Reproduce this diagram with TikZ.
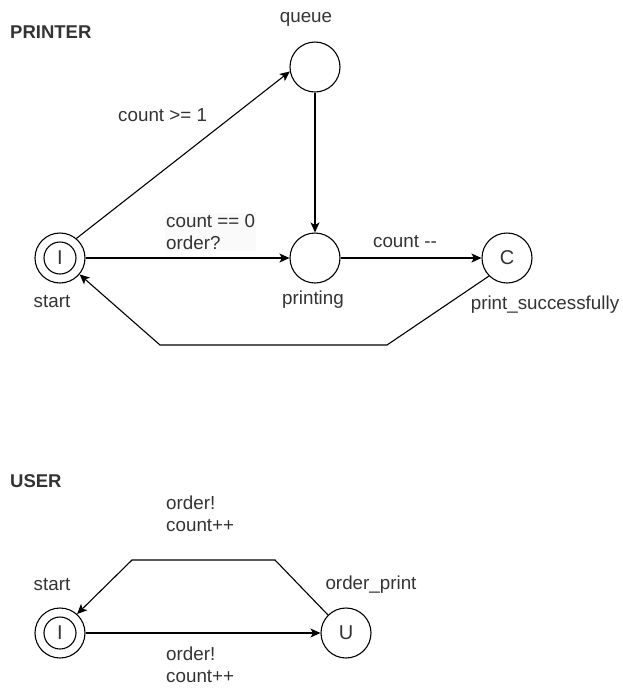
\documentclass[tikz,border=0pt]{standalone}
\usepackage{fontspec}
\setmainfont{Liberation Sans}
\usetikzlibrary{arrows.meta}
\definecolor{txtgray}{RGB}{51,51,51}
\tikzset{
	state/.style={circle, draw=black, line width=1.1pt, minimum size=50pt, inner sep=0pt, text=txtgray, font=\fontsize{20}{22}\selectfont},
	initstate/.style={state, path picture={\draw[line width=1.1pt] (path picture bounding box.center) circle (16pt);}},
	lbl/.style={text=txtgray, font=\fontsize{18.8}{22.5}\selectfont, align=left, inner sep=1pt},
	title/.style={lbl, font=\fontsize{18.5}{22}\selectfont\bfseries},
	trans/.style={line width=1.1pt, -{Stealth[length=10pt, width=9pt, inset=2.5pt]}},
}
\begin{document}
\begin{tikzpicture}[x=1pt, y=-1pt]
		\useasboundingbox (0, 0) rectangle (622, 689);
		% printer
		\node[title, anchor=west] (printer) at (9, 32) {PRINTER};
		\node[initstate] (pstart) at (60, 258) {I};
		\node[state] (queue) at (315, 67) {};
		\node[state] (printing) at (315, 258) {};
		\node[state] (success) at (507, 258) {C};
		\node[lbl] (queuename) at (306, 19) {queue};
		\node[lbl] (pstartname) at (52, 302) {start};
		\node[lbl] (printingname) at (313, 300) {printing};
		\node[lbl] (successname) at (545, 305) {print\_successfully};
		\node[lbl, anchor=west] (countge) at (117, 115) {count >= 1};
		\node[lbl, anchor=west, fill=black!2] (counteq) at (165, 232) {count == 0\\order?};
		\node[lbl] (countdec) at (405, 242) {count -{}-};
		\coordinate (backright) at (387, 345);
		\coordinate (backleft) at (160, 345);
		\draw[trans] (pstart.50) -- (queue.190);
		\draw[trans] (pstart) -- (printing);
		\draw[trans] (queue) -- (printing);
		\draw[trans] (printing) -- (success);
		\draw[trans] (success.225) -- (backright) -- (backleft) -- (pstart.-40);
		% user
		\node[title, anchor=west] (user) at (9, 481) {USER};
		\node[initstate] (ustart) at (60, 633) {I};
		\node[state] (orderprint) at (346, 633) {U};
		\node[lbl] (ustartname) at (52, 585) {start};
		\node[lbl] (orderprintname) at (371, 585) {order\_print};
		\node[lbl, anchor=west] (ordertop) at (165, 514) {order!\\count++};
		\node[lbl, anchor=west] (orderbottom) at (165, 665) {order!\\count++};
		\coordinate (topright) at (275, 560);
		\coordinate (topleft) at (132, 560);
		\draw[trans] (ustart) -- (orderprint);
		\draw[trans] (orderprint.135) -- (topright) -- (topleft) -- (ustart.48);
	\end{tikzpicture}
\end{document}
